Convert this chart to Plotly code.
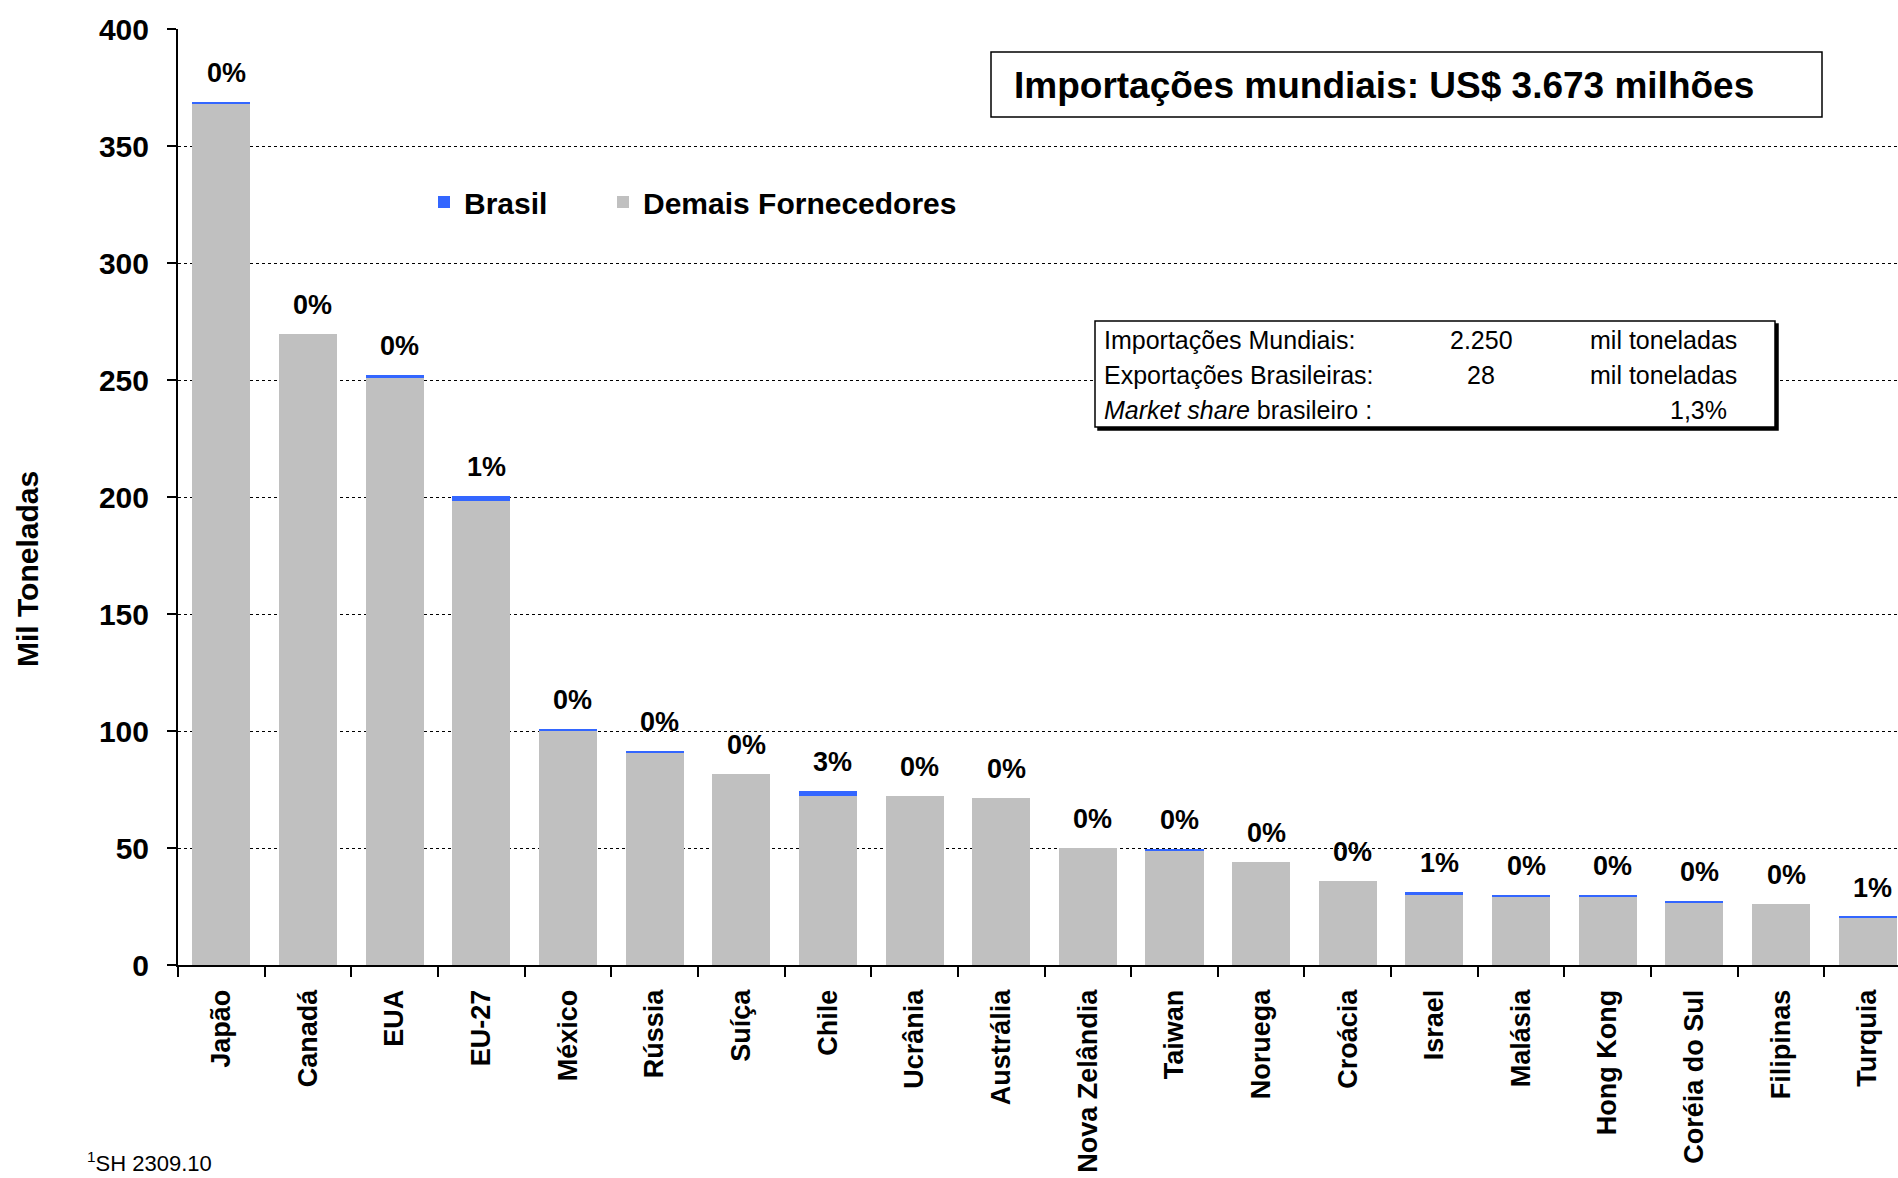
import plotly.graph_objects as go

# ---------------- data ----------------
countries = ["Japão", "Canadá", "EUA", "EU-27", "México", "Rússia", "Suíça", "Chile",
             "Ucrânia", "Austrália", "Nova Zelândia", "Taiwan", "Noruega", "Croácia",
             "Israel", "Malásia", "Hong Kong", "Coréia do Sul", "Filipinas", "Turquia"]
demais = [368.2, 269.6, 251.2, 198.3, 100.4, 91.0, 81.8, 72.2,
          72.4, 71.4, 50.2, 49.0, 44.0, 35.7,
          30.3, 29.4, 29.4, 26.8, 25.9, 20.1]
brasil = [0.8, 0.0, 0.8, 2.0, 0.6, 0.6, 0.0, 2.3,
          0.0, 0.0, 0.0, 0.7, 0.0, 0.0,
          0.7, 0.6, 0.6, 0.6, 0.0, 0.6]
share_labels = ["0%", "0%", "0%", "1%", "0%", "0%", "0%", "3%",
                "0%", "0%", "0%", "0%", "0%", "0%",
                "1%", "0%", "0%", "0%", "0%", "1%"]
y_ticks = [0, 50, 100, 150, 200, 250, 300, 350, 400]

title_text = "Importações mundiais: US$ 3.673 milhões"
info_rows = ["Importações Mundiais:", "Exportações Brasileiras:", "<i>Market share</i> brasileiro :"]
info_values = ["2.250", "28", ""]
info_units = ["mil toneladas", "mil toneladas", ""]
market_share = "1,3%"
footnote = "<sup>1</sup>SH 2309.10"

# ---------------- layout helpers ----------------
W, H = 1898, 1178
L, T, B = 178, 29, 965  # plot area pixel bounds
PW, PH = W - L, B - T


def px(x):
    return (x - L) / PW


def py(y):
    return (B - y) / PH


FONT = "Liberation Sans, Arial, sans-serif"
GRAY = "#C0C0C0"
BLUE = "#3366FF"

totals = [d + b for d, b in zip(demais, brasil)]

fig = go.Figure()
fig.add_trace(go.Bar(x=countries, y=demais, name="Demais Fornecedores",
                     marker=dict(color=GRAY, line=dict(width=0)), legend="legend2"))
fig.add_trace(go.Bar(x=countries, y=brasil, name="Brasil",
                     marker=dict(color=BLUE, line=dict(width=0)), legend="legend"))

annotations = []
for c, t, lab in zip(countries, totals, share_labels):
    annotations.append(dict(x=c, y=t, xref="x", yref="y", text=f"<b>{lab}</b>",
                            showarrow=False, yanchor="bottom", yshift=12, xshift=5,
                            font=dict(family=FONT, size=27, color="black")))

# y axis title
annotations.append(dict(x=px(27), y=py(569), xref="paper", yref="paper",
                        text="<b>Mil Toneladas</b>", textangle=-90, showarrow=False,
                        xanchor="center", yanchor="middle",
                        font=dict(family=FONT, size=30, color="black")))

# title box text
annotations.append(dict(x=px(1012), y=py(85), xref="paper", yref="paper",
                        text=f"<b>{title_text}</b>", showarrow=False,
                        xanchor="left", yanchor="middle",
                        font=dict(family=FONT, size=37, color="black")))

# info box texts
INFO_SIZE = 25
row_y = [340, 375, 410]
for i, ry in enumerate(row_y):
    annotations.append(dict(x=px(1102), y=py(ry), xref="paper", yref="paper",
                            text=info_rows[i], showarrow=False, xanchor="left", yanchor="middle",
                            font=dict(family=FONT, size=INFO_SIZE, color="black")))
    if info_values[i]:
        annotations.append(dict(x=px(1481), y=py(ry), xref="paper", yref="paper",
                                text=info_values[i], showarrow=False, xanchor="center",
                                yanchor="middle", font=dict(family=FONT, size=INFO_SIZE, color="black")))
    if info_units[i]:
        annotations.append(dict(x=px(1588), y=py(ry), xref="paper", yref="paper",
                                text=info_units[i], showarrow=False, xanchor="left",
                                yanchor="middle", font=dict(family=FONT, size=INFO_SIZE, color="black")))
annotations.append(dict(x=px(1729), y=py(row_y[2]), xref="paper", yref="paper",
                        text=market_share, showarrow=False, xanchor="right", yanchor="middle",
                        font=dict(family=FONT, size=INFO_SIZE, color="black")))

# footnote
annotations.append(dict(x=px(85), y=py(1162), xref="paper", yref="paper",
                        text=footnote, showarrow=False, xanchor="left", yanchor="middle",
                        font=dict(family=FONT, size=22, color="black")))

shapes = [
    # title box
    dict(type="rect", xref="paper", yref="paper", x0=px(991), x1=px(1822), y0=py(52), y1=py(117),
         line=dict(color="black", width=1.5), fillcolor="white", layer="above"),
    # info box shadow
    dict(type="rect", xref="paper", yref="paper", x0=px(1098), x1=px(1778), y0=py(324), y1=py(430),
         line=dict(color="black", width=1.5), fillcolor="black", layer="above"),
    # info box
    dict(type="rect", xref="paper", yref="paper", x0=px(1095), x1=px(1775), y0=py(321), y1=py(427),
         line=dict(color="black", width=1.5), fillcolor="white", layer="above"),
]

legend_font = dict(family=FONT, size=30, color="black", weight="bold")
fig.update_layout(
    width=W, height=H,
    margin=dict(l=L, r=0, t=T, b=H - B, pad=0),
    paper_bgcolor="white", plot_bgcolor="white",
    barmode="stack", bargap=0.33,
    font=dict(family=FONT, color="black"),
    showlegend=True,
    legend=dict(orientation="h", x=px(424), y=py(202), xanchor="left", yanchor="middle",
                font=legend_font, bgcolor="rgba(0,0,0,0)", itemwidth=30),
    legend2=dict(orientation="h", x=px(603), y=py(202), xanchor="left", yanchor="middle",
                 font=legend_font, bgcolor="rgba(0,0,0,0)", itemwidth=30),
    annotations=annotations,
    shapes=shapes,
)

fig.update_xaxes(
    type="category", range=[-0.5, 19.35],
    showline=True, linecolor="black", linewidth=2,
    ticks="outside", tickson="boundaries", ticklen=10, tickcolor="black", tickwidth=1.5,
    tickangle=-90, tickfont=dict(family=FONT, size=27, color="black", weight="bold"),
    ticklabelstandoff=12,
    showgrid=False, zeroline=False,
)
fig.update_yaxes(
    range=[0, 400], tickvals=y_ticks, ticktext=[str(v) for v in y_ticks],
    showline=True, linecolor="black", linewidth=2,
    ticks="outside", ticklen=9, tickcolor="black", tickwidth=1.5,
    tickfont=dict(family=FONT, size=30, color="black", weight="bold"),
    ticklabelstandoff=12,
    showgrid=True, gridcolor="black", gridwidth=1, griddash="dot",
    zeroline=False,
)

fig.write_html("out.html", config={"displayModeBar": False},
               post_script="document.body.style.margin='0';")
